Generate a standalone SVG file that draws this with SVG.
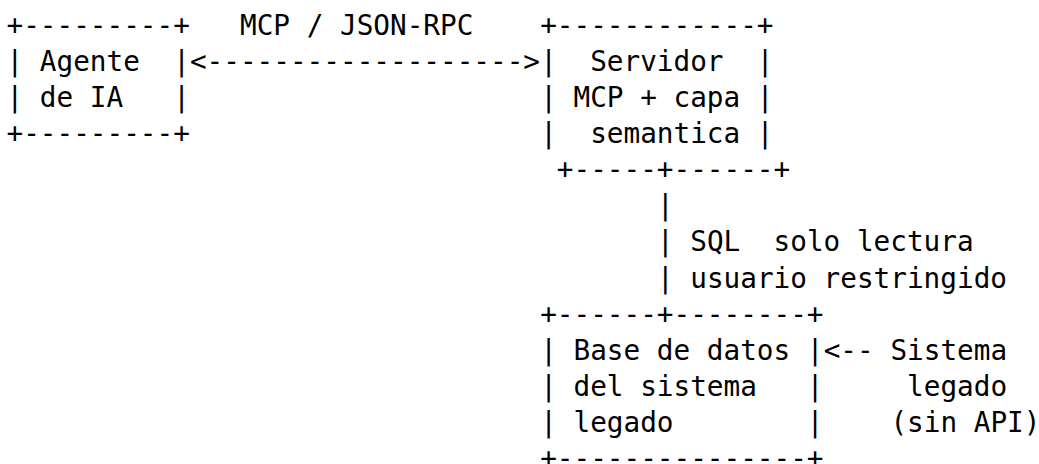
<svg xmlns="http://www.w3.org/2000/svg" width="1039" height="464" viewBox="0 0 1039 464" xml:space="preserve">
  <style>
    /* Monospace grid: one column = 16.677px, one row = 36.15px */
    text {
      font-family: "DejaVu Sans Mono", "Liberation Mono", monospace;
      font-size: 27.7px;
      fill: #000000;
      white-space: pre;
    }
  </style>
  <rect x="0" y="0" width="1039" height="464" fill="#ffffff"/>

  <!-- AI agent box: columns 0-10, rows 0-3 -->
  <g id="node-agente">
    <text x="6.5" y="34.5">+---------+</text>
    <text x="6.5" y="70.65">| Agente  |</text>
    <text x="6.5" y="106.8">| de IA   |</text>
    <text x="6.5" y="142.95">+---------+</text>
  </g>

  <!-- MCP server box: columns 32-45, bottom edge shifted one column -->
  <g id="node-servidor">
    <text x="540.16" y="34.5">+------------+</text>
    <text x="540.16" y="70.65">|  Servidor  |</text>
    <text x="540.16" y="106.8">| MCP + capa |</text>
    <text x="540.16" y="142.95">|  semantica |</text>
    <text x="556.84" y="179.1">+-----+------+</text>
  </g>

  <!-- Legacy database box: columns 32-48, rows 8-12 -->
  <g id="node-base-datos">
    <text x="540.16" y="323.7">+------+--------+</text>
    <text x="540.16" y="359.85">| Base de datos |</text>
    <text x="540.16" y="396.0">| del sistema   |</text>
    <text x="540.16" y="432.15">| legado        |</text>
    <text x="540.16" y="468.3">+---------------+</text>
  </g>

  <!-- Legacy system source, no box -->
  <g id="node-sistema-legado">
    <text x="890.39" y="359.85">Sistema</text>
    <text x="907.06" y="396.0">legado</text>
    <text x="890.39" y="432.15">(sin API)</text>
  </g>

  <g id="connectors">
    <!-- agent <-> server -->
    <g id="edge-agente-servidor">
      <text x="239.98" y="34.5">MCP / JSON-RPC</text>
      <text x="189.95" y="70.65">&lt;-------------------&gt;</text>
    </g>
    <!-- server -> database, read-only SQL -->
    <g id="edge-servidor-base-datos">
      <text x="656.90" y="215.25">|</text>
      <text x="656.90" y="251.4">|</text>
      <text x="690.26" y="251.4">SQL  solo lectura</text>
      <text x="656.90" y="287.55">|</text>
      <text x="690.26" y="287.55">usuario restringido</text>
    </g>
    <!-- legacy system -> database -->
    <g id="edge-sistema-base-datos">
      <text x="823.67" y="359.85">&lt;--</text>
    </g>
  </g>
</svg>
